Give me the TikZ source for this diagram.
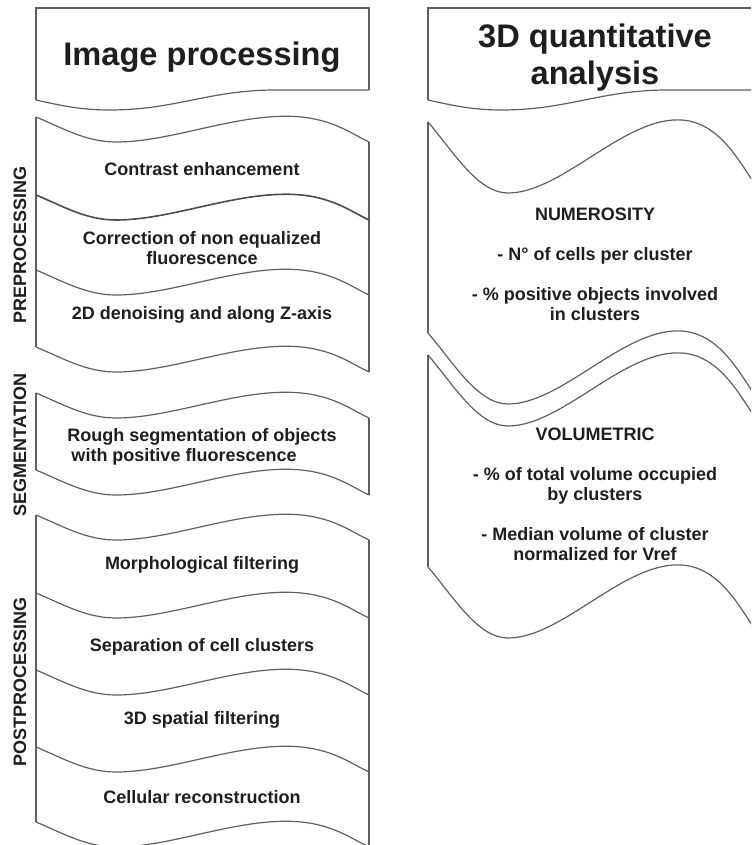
\documentclass[tikz,border=0pt]{standalone}
\usepackage{fontspec}
\setmainfont{Liberation Sans}
\definecolor{InkGray}{RGB}{30,30,30}
\definecolor{LineGray}{RGB}{95,95,95}
\usetikzlibrary{positioning}
% wavy band edge: #2,#3 = left end, #4 = depth of the wave
\newcommand{\wave}[4][]{%
  \draw[wavy, #1, shift={(#2,#3)}, xscale=333, yscale=#4]
    (0,0) .. controls (0.08,0.44) and (0.15,1) .. (0.24,1)
    .. controls (0.40,1) and (0.58,-0.03) .. (0.75,-0.03)
    .. controls (0.88,-0.03) and (0.94,0.62) .. (1,1);}
% bottom edge of a title box
\newcommand{\headwave}[2]{%
  \draw[wavy, shift={(#1,#2)}, xscale=333, yscale=10]
    (0,0) .. controls (0.08,0.6) and (0.14,1) .. (0.22,1)
    .. controls (0.42,1) and (0.52,-1) .. (0.72,-1) -- (1,-1);}

\begin{document}
\begin{tikzpicture}[
    x=0.5pt, y=-0.5pt,
    wavy/.style={draw=LineGray, line width=0.6pt},
    dark/.style={draw=InkGray!80, line width=0.8pt},
    head/.style={font=\fontsize{16.3pt}{18.5pt}\selectfont\bfseries, text=InkGray, align=center},
    boxtext/.style={font=\fontsize{9pt}{10pt}\selectfont\bfseries, text=InkGray, align=center},
    sidelbl/.style={rotate=90, font=\fontsize{9pt}{10pt}\selectfont\bfseries, text=InkGray}
]
\useasboundingbox (0,0) rectangle (751,845);
\clip (0,0) rectangle (751,845);

% left column: title
\draw[wavy] (36,100) -- (36,8) -- (369,8) -- (369,90);
\headwave{36}{100}
\node[head] (hdimg) at (202,57) {Image processing};

% preprocessing
\draw[wavy] (36,117) -- (36,347);
\draw[wavy] (369,142) -- (369,372);
\wave{36}{117}{25}
\wave[dark]{36}{195}{25}
\wave{36}{270}{25}
\wave{36}{347}{25}
\node[boxtext] (contrast) at (202,169) {Contrast enhancement};
\node[boxtext] (correction) at (202,248) {Correction of non equalized\\fluorescence};
\node[boxtext] (denoise) at (202,315) {2D denoising and along Z-axis};
\node[sidelbl] (pre) at (20,245) {PREPROCESSING};

% segmentation
\draw[wavy] (36,393) -- (36,470);
\draw[wavy] (369,418) -- (369,495);
\wave{36}{393}{25}
\wave{36}{470}{25}
\node[boxtext, align=left] (rough) at (202,447) {Rough segmentation of objects\\\hspace*{2pt}with positive fluorescence};
\node[sidelbl] (seg) at (20,445) {SEGMENTATION};

% postprocessing
\draw[wavy] (36,515) -- (36,822);
\draw[wavy] (369,540) -- (369,847);
\foreach \yy in {515,593,670,747,822}
  \wave{36}{\yy}{25};
\node[boxtext] (morph) at (202,565) {Morphological filtering};
\node[boxtext] (separation) at (202,647) {Separation of cell clusters};
\node[boxtext] (spatial) at (202,720) {3D spatial filtering};
\node[boxtext] (recon) at (202,797) {Cellular reconstruction};
\node[sidelbl] (post) at (20,682) {POSTPROCESSING};

% right column: title
\draw[wavy] (428,100) -- (428,8) -- (761,8) -- (761,90);
\headwave{428}{100}
\node[head] (hd3d) at (595,58) {3D quantitative\\analysis};

% numerosity
\draw[wavy] (428,122) -- (428,333);
\wave{428}{122}{71}
\wave{428}{333}{71}
\node[boxtext] (numer) at (595,264) {NUMEROSITY\\[10pt]- N° of cells per cluster\\[10pt]- \% positive objects involved\\in clusters};

% volumetric
\draw[wavy] (428,355) -- (428,567);
\wave{428}{355}{71}
\wave{428}{567}{71}
\node[boxtext] (volum) at (595,494) {VOLUMETRIC\\[10pt]- \% of total volume occupied\\by clusters\\[10pt]- Median volume of cluster\\normalized for Vref};
\end{tikzpicture}
\end{document}
